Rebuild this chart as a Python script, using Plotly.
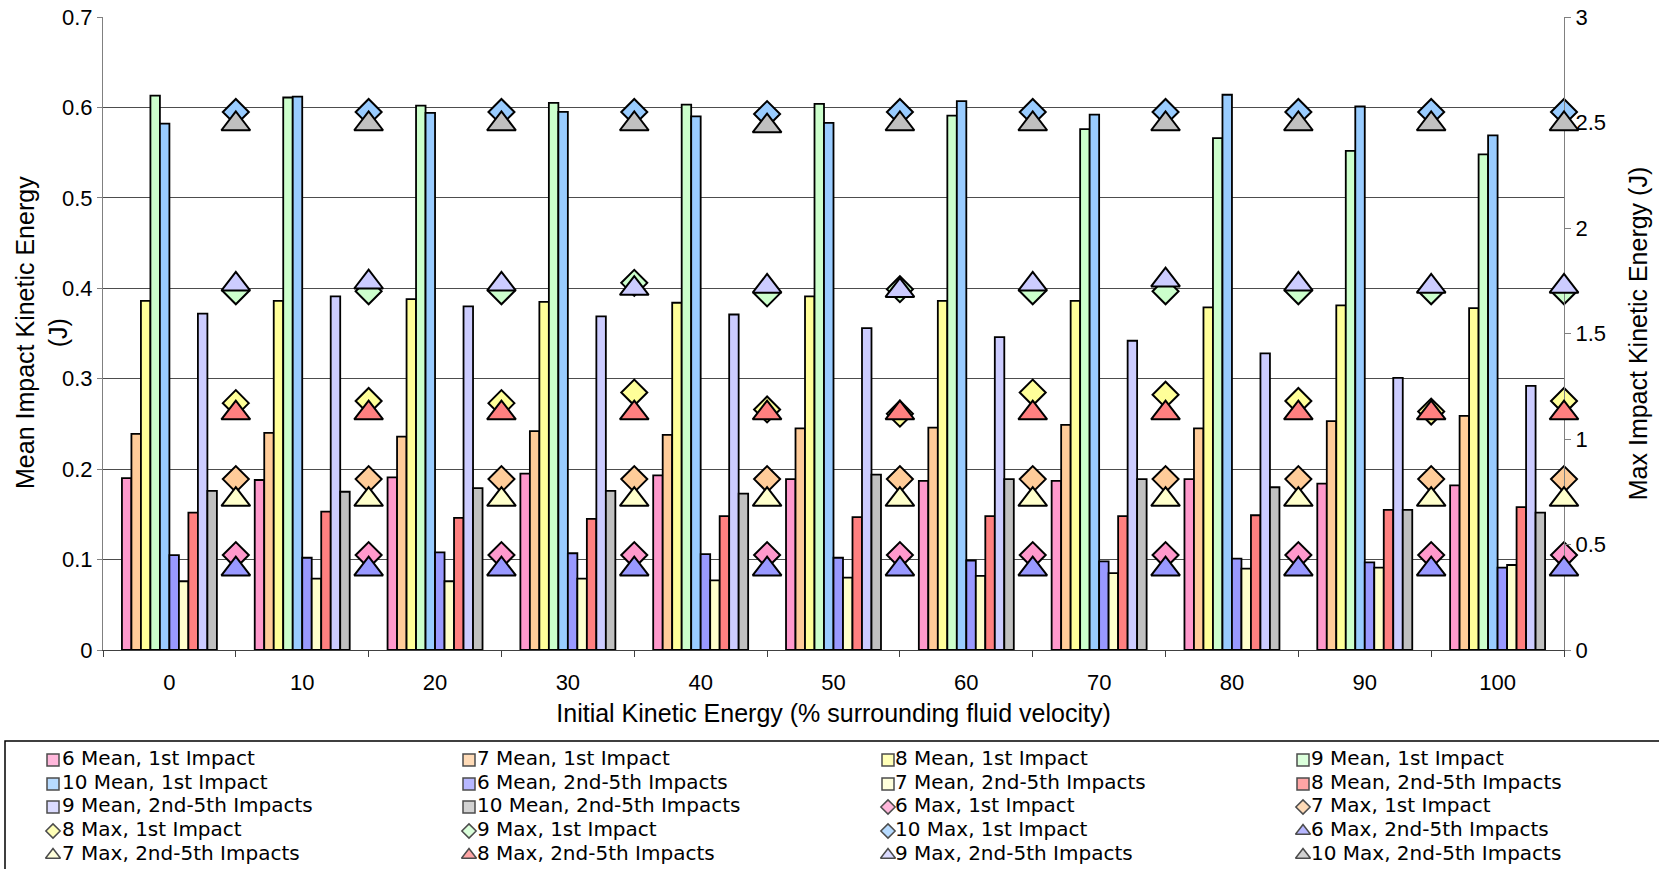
import plotly.graph_objects as go

# ---------------- data ----------------
categories = [0, 10, 20, 30, 40, 50, 60, 70, 80, 90, 100]
tick_labels = [str(c) for c in categories]

mean1_6 = [0.190, 0.188, 0.191, 0.195, 0.193, 0.189, 0.187, 0.187, 0.189, 0.184, 0.182]
mean1_7 = [0.239, 0.240, 0.236, 0.242, 0.238, 0.245, 0.246, 0.249, 0.245, 0.253, 0.259]
mean1_8 = [0.386, 0.386, 0.388, 0.385, 0.384, 0.391, 0.386, 0.386, 0.379, 0.381, 0.378]
mean1_9 = [0.613, 0.611, 0.602, 0.605, 0.603, 0.604, 0.591, 0.576, 0.566, 0.552, 0.548]
mean1_10 = [0.582, 0.612, 0.594, 0.595, 0.590, 0.583, 0.607, 0.592, 0.614, 0.601, 0.569]
mean2_6 = [0.105, 0.102, 0.108, 0.107, 0.106, 0.102, 0.099, 0.098, 0.101, 0.097, 0.091]
mean2_7 = [0.076, 0.079, 0.076, 0.079, 0.077, 0.080, 0.082, 0.085, 0.090, 0.091, 0.094]
mean2_8 = [0.152, 0.153, 0.146, 0.145, 0.148, 0.147, 0.148, 0.148, 0.149, 0.155, 0.158]
mean2_9 = [0.372, 0.391, 0.380, 0.369, 0.371, 0.356, 0.346, 0.342, 0.328, 0.301, 0.292]
mean2_10 = [0.176, 0.175, 0.179, 0.176, 0.173, 0.194, 0.189, 0.189, 0.180, 0.155, 0.152]

max1_6 = [0.45, 0.45, 0.45, 0.45, 0.45, 0.45, 0.45, 0.45, 0.45, 0.45, 0.45]
max1_7 = [0.81, 0.81, 0.81, 0.81, 0.81, 0.81, 0.81, 0.81, 0.81, 0.81, 0.81]
max1_8 = [1.17, 1.18, 1.17, 1.22, 1.14, 1.12, 1.22, 1.21, 1.18, 1.13, 1.18]
max1_9 = [1.70, 1.70, 1.70, 1.74, 1.69, 1.71, 1.70, 1.70, 1.70, 1.70, 1.70]
max1_10 = [2.55, 2.55, 2.55, 2.55, 2.54, 2.55, 2.55, 2.55, 2.55, 2.55, 2.55]
max2_6 = [0.41, 0.41, 0.41, 0.41, 0.41, 0.41, 0.41, 0.41, 0.41, 0.41, 0.41]
max2_7 = [0.74, 0.74, 0.74, 0.74, 0.74, 0.74, 0.74, 0.74, 0.74, 0.74, 0.74]
max2_8 = [1.15, 1.15, 1.15, 1.15, 1.15, 1.15, 1.15, 1.15, 1.15, 1.15, 1.15]
max2_9 = [1.76, 1.77, 1.76, 1.74, 1.75, 1.73, 1.76, 1.78, 1.76, 1.75, 1.75]
max2_10 = [2.52, 2.52, 2.52, 2.52, 2.51, 2.52, 2.52, 2.52, 2.52, 2.52, 2.52]

bar_names = ["6 Mean, 1st Impact", "7 Mean, 1st Impact", "8 Mean, 1st Impact",
             "9 Mean, 1st Impact", "10 Mean, 1st Impact",
             "6 Mean, 2nd-5th Impacts", "7 Mean, 2nd-5th Impacts", "8 Mean, 2nd-5th Impacts",
             "9 Mean, 2nd-5th Impacts", "10 Mean, 2nd-5th Impacts"]
bar_values = [mean1_6, mean1_7, mean1_8, mean1_9, mean1_10,
              mean2_6, mean2_7, mean2_8, mean2_9, mean2_10]

max_names = ["6 Max, 1st Impact", "7 Max, 1st Impact", "8 Max, 1st Impact",
             "9 Max, 1st Impact", "10 Max, 1st Impact",
             "6 Max, 2nd-5th Impacts", "7 Max, 2nd-5th Impacts", "8 Max, 2nd-5th Impacts",
             "9 Max, 2nd-5th Impacts", "10 Max, 2nd-5th Impacts"]
max_values = [max1_6, max1_7, max1_8, max1_9, max1_10,
              max2_6, max2_7, max2_8, max2_9, max2_10]

colors = ["#FF99CC", "#FFCC99", "#FFFF99", "#CCFFCC", "#99CCFF",
          "#9999FF", "#FFFFCC", "#FF8080", "#CCCCFF", "#C0C0C0"]
max_symbols = ["diamond"] * 5 + ["triangle-up"] * 5

# ---------------- figure ----------------
W, H = 1659, 869
FONT = "Liberation Sans, Arial, sans-serif"
LEG_FONT = "DejaVu Sans, Liberation Sans, sans-serif"

DIA_SIZE, TRI_SIZE = 20, 25
# plotly's triangle is not centred on its point: shift its axis so the shape is centred
tri_shift = 0.457 * TRI_SIZE / 2 / H

idx = list(range(len(categories)))
marker_x = [i + 0.5 for i in idx]

fig = go.Figure()

for name, vals, col in zip(bar_names, bar_values, colors):
    fig.add_trace(go.Bar(
        x=idx, y=vals, name=name,
        marker=dict(color=col, line=dict(color="black", width=1.8)),
        showlegend=False, xaxis="x", yaxis="y"))

for name, vals, col, sym in zip(max_names, max_values, colors, max_symbols):
    fig.add_trace(go.Scatter(
        x=marker_x, y=vals, name=name, mode="markers",
        marker=dict(symbol=sym, size=DIA_SIZE if sym == "diamond" else TRI_SIZE, color=col,
                    line=dict(color="black", width=2)),
        cliponaxis=False, showlegend=False, xaxis="x",
        yaxis="y2" if sym == "diamond" else "y4"))

# ---------------- custom legend (figure pixel coordinates) ----------------
legend_names = bar_names + max_names
legend_colors = colors + colors
legend_symbols = ["square"] * 10 + max_symbols
col_sym_x = [53, 469, 888, 1303]
col_txt_x = [62, 477, 895, 1311]
row_y = [760, 784, 807, 831, 855]

lx, ly, lsz, tx = [], [], [], []
for k, sym in enumerate(legend_symbols):
    lx.append(col_sym_x[k % 4])
    tx.append(col_txt_x[k % 4])
    ly.append(row_y[k // 4])
    lsz.append(12 if sym == "square" else (11 if sym == "diamond" else 13))

fig.add_trace(go.Scatter(
    x=lx, y=ly, mode="markers", hoverinfo="skip",
    marker=dict(symbol=legend_symbols, size=lsz, color=legend_colors,
                line=dict(color="black", width=1.5)),
    cliponaxis=False, showlegend=False, xaxis="x3", yaxis="y3"))

fig.add_trace(go.Scatter(
    x=tx, y=ly, mode="text", text=legend_names, textposition="middle right",
    textfont=dict(family=LEG_FONT, size=20, color="black"), hoverinfo="skip",
    cliponaxis=False, showlegend=False, xaxis="x3", yaxis="y3"))

shapes = [dict(type="rect", xref="paper", yref="paper",
               x0=5 / W, x1=1700 / W, y0=-0.05, y1=1 - 741 / H,
               line=dict(color="black", width=1.5), fillcolor="rgba(0,0,0,0)")]

# left axis title (two lines) placed as a rotated annotation
annotations = [dict(
    x=41 / W, y=1 - 333 / H, xref="paper", yref="paper",
    text="Mean Impact Kinetic Energy<br>(J)", textangle=-90, showarrow=False,
    xanchor="center", yanchor="middle", font=dict(family=FONT, size=25, color="black"))]

x0d, x1d = 103 / W, 1564 / W
y0d, y1d = 1 - 650 / H, 1 - 17 / H

fig.update_layout(
    width=W, height=H,
    margin=dict(l=0, r=0, t=0, b=0, autoexpand=False),
    paper_bgcolor="white", plot_bgcolor="rgba(0,0,0,0)",
    font=dict(family=FONT, size=22, color="black"),
    barmode="group", bargap=0.285, bargroupgap=0,
    showlegend=False,
    shapes=shapes, annotations=annotations,
    xaxis=dict(
        domain=[x0d, x1d], anchor="y", automargin=False,
        range=[-0.5, len(categories) - 0.5],
        tickmode="array", tickvals=idx, ticktext=tick_labels,
        ticks="", showgrid=False, zeroline=False,
        showline=True, linecolor="#404040", linewidth=1,
        tickfont=dict(size=22), ticklabelstandoff=13, ticklabeloverflow="allow",
        minor=dict(tickmode="linear", tick0=0.5, dtick=1, ticks="outside",
                   ticklen=6, tickcolor="#404040", showgrid=False),
        title=dict(text="Initial Kinetic Energy (% surrounding fluid velocity)",
                   font=dict(size=25), standoff=10),
    ),
    yaxis=dict(
        domain=[y0d, y1d], anchor="x", automargin=False,
        range=[0, 0.7], dtick=0.1, tick0=0,
        ticks="outside", ticklen=5, tickcolor="#808080",
        showgrid=True, gridcolor="#4d4d4d", gridwidth=1,
        zeroline=False, showline=True, linecolor="#808080", linewidth=1,
        tickfont=dict(size=22), ticklabeloverflow="allow",
    ),
    yaxis2=dict(
        domain=[y0d, y1d], anchor="x", overlaying="y", side="right", automargin=False,
        range=[0, 3], dtick=0.5, tick0=0,
        ticks="outside", ticklen=6, tickcolor="#808080",
        showgrid=False, zeroline=False, showline=True, linecolor="#808080", linewidth=1,
        tickfont=dict(size=22), ticklabeloverflow="allow",
        title=dict(text="Max Impact Kinetic Energy (J)", font=dict(size=25), standoff=24),
    ),
    yaxis4=dict(
        domain=[y0d - tri_shift, y1d - tri_shift], anchor="x", range=[0, 3],
        visible=False, fixedrange=True, automargin=False,
    ),
    xaxis3=dict(domain=[0, 1], anchor="y3", range=[0, W], visible=False,
                fixedrange=True, automargin=False),
    yaxis3=dict(domain=[0, 1], anchor="x3", range=[H, 0], visible=False,
                fixedrange=True, automargin=False),
)

# let the figure fill the window exactly (no default page margin)
fig.write_html("out.html",
               config={"displayModeBar": False},
               post_script="document.body.style.margin='0px';document.body.style.overflow='hidden';")
